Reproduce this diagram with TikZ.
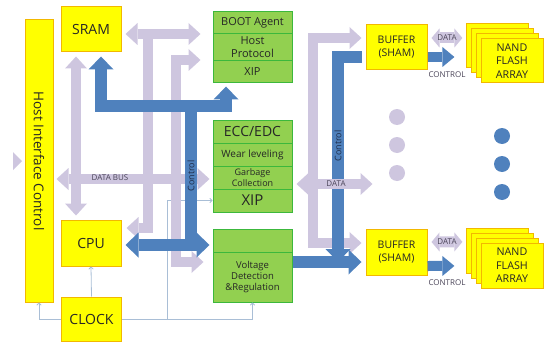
\documentclass[tikz,border=0pt]{standalone}
\usepackage{fontspec}
\setmainfont{Open Sans}
\usetikzlibrary{arrows.meta,calc}

\definecolor{yfill}{HTML}{FFFF00}
\definecolor{ybord}{HTML}{F2B800}
\definecolor{gfill}{HTML}{92D050}
\definecolor{gbord}{HTML}{3CB83C}
\definecolor{lavc}{HTML}{CEC6DF}
\definecolor{bluec}{HTML}{4F81BD}
\definecolor{thinc}{HTML}{A9BED6}
\definecolor{txtc}{HTML}{262626}
\definecolor{labc}{HTML}{4A4458}
\definecolor{ctlc}{HTML}{1E2D4A}

\tikzset{
  LavTip/.tip={Triangle[width=22pt,length=12pt,line width=0pt]},
  BlueTip/.tip={Triangle[width=25pt,length=13pt,line width=0pt]},
  SmallLav/.tip={Triangle[width=19pt,length=8pt,line width=0pt]},
  SmallBlue/.tip={Triangle[width=20pt,length=12pt,line width=0pt]},
  ybox/.style={draw=ybord, fill=yfill, line width=1pt, inner sep=0pt, align=center, text=txtc},
  gbox/.style={draw=gbord, fill=gfill, line width=1pt, inner sep=0pt, align=center, minimum width=79pt, text=txtc},
  lavbus/.style={draw=lavc, line width=10pt},
  bluebus/.style={draw=bluec, line width=12pt},
  thinline/.style={draw=thinc, line width=0.8pt, -{To[length=3pt,width=5pt]}},
  f8/.style={font=\fontsize{8}{9.5}\selectfont},
  f9/.style={font=\fontsize{9}{10.5}\selectfont},
  f10/.style={font=\fontsize{10}{11}\selectfont},
  f11/.style={font=\fontsize{11}{13}\selectfont},
  f14/.style={font=\fontsize{14}{16}\selectfont}
}

\begin{document}
\begin{tikzpicture}[x=1pt, y=-1pt]
    \useasboundingbox (0,0) rectangle (545,342);

    % Draw nodes
    \node[ybox, minimum width=28pt, minimum height=282pt] (hic) at (39,161) {};
    \node[rotate=-90, font=\fontsize{13.5}{16}\selectfont, text=txtc] (hictxt) at (hic.center) {Host Interface Control};
    \node[ybox, minimum width=60pt, minimum height=45pt, f14] (sram) at (91,29.5) {SRAM};
    \node[ybox, minimum width=60pt, minimum height=46pt, f14] (cpu) at (91,243) {CPU};
    \node[ybox, minimum width=60pt, minimum height=44pt, f14] (clock) at (91.5,319) {CLOCK};

    \node[gbox, minimum height=22pt, f11] (boot1) at (252.5,23) {BOOT Agent};
    \node[gbox, minimum height=27pt, f11] (boot2) at (252.5,47.5) {Host\\Protocol};
    \node[gbox, minimum height=22pt, f11] (boot3) at (252.5,72) {XIP};

    \node[gbox, minimum height=23pt, f14] (ecc1) at (252.5,131.5) {ECC/EDC};
    \node[gbox, minimum height=23pt, f10] (ecc2) at (252.5,154.5) {Wear leveling};
    \node[gbox, minimum height=23pt, f9] (ecc3) at (252.5,177.5) {Garbage\\Collection};
    \node[gbox, minimum height=23pt, font=\fontsize{15}{17}\selectfont] (ecc4) at (252.5,200.5) {XIP};

    \node[gbox, minimum height=23pt] (volt1) at (252.5,240.5) {};
    \node[gbox, minimum height=50pt, font=\fontsize{9.5}{11}\selectfont] (volt2) at (252.5,277) {Voltage\\Detection\\\&Regulation};

    \node[ybox, minimum width=61pt, minimum height=45pt, font=\fontsize{10.5}{13}\selectfont] (buf1) at (396.5,47.5) {BUFFER\\(SHAM)};
    \node[ybox, minimum width=61pt, minimum height=46pt, font=\fontsize{10.5}{13}\selectfont] (buf2) at (396.5,252) {BUFFER\\(SHAM)};

    \foreach \i in {3,2,1} {
        \node[ybox, minimum width=62pt, minimum height=44pt] (nand1b\i) at ($(512,61)+(-4.7*\i,-5*\i)$) {};
        \node[ybox, minimum width=62pt, minimum height=45pt] (nand2b\i) at ($(512,265.5)+(-4.7*\i,-4.7*\i)$) {};
    }
    \node[ybox, minimum width=62pt, minimum height=44pt, font=\fontsize{10.7}{13.5}\selectfont] (nand1) at (512,61) {NAND\\FLASH\\ARRAY};
    \node[ybox, minimum width=62pt, minimum height=45pt, font=\fontsize{10.7}{13.5}\selectfont] (nand2) at (512,265.5) {NAND\\FLASH\\ARRAY};

    % Dots
    \foreach \y [count=\k] in {117,145,173} {
        \fill[lavc] (397,\y) circle (8pt) coordinate (ldot\k);
        \fill[bluec] (502,\y+19) circle (8pt) coordinate (bdot\k);
    }
    \fill[lavc] (13,152) -- (22,161) -- (13,170) -- cycle;

    % Clock lines
    \coordinate (clktap) at ($(clock.east)+(45.5,0)$);
    \draw[thinline] (clock.north) -- (cpu.south);
    \draw[thinline] (clock.west) -| (hic.south);
    \draw[thinline] (clock.east) -| (volt2.south);
    \draw[thinline] (clktap) |- (ecc4.west);

    % Data paths
    \draw[lavbus, LavTip-LavTip] ($(sram.south)+(-15,4)$) -- ($(cpu.north)+(-15,-4)$);
    \draw[lavbus, LavTip-LavTip] ($(sram.east)+(4,4.5)$) -- ($(boot1.west)+(-12,11)$);
    \draw[lavbus, -LavTip] (148,34) -- (148,228) -- ($(cpu.east)+(5,-15)$);
    \draw[lavbus, LavTip-LavTip] ($(boot2.west)+(-12,12.5)$) -- (176,60) -- (176,262) -- ($(volt2.west)+(-9,-15)$);
    \draw[lavbus, LavTip-LavTip] ($(hic.east)+(3,18)$) -- ($(ecc3.west)+(-3,1.5)$);
    \draw[lavbus, LavTip-LavTip] ($(buf1.west)+(-4,-9.5)$) -- (313,38) -- (313,243) -- ($(buf2.west)+(-4,-9)$);

    % Control paths
    \draw[bluebus, BlueTip-BlueTip] ($(sram.south)+(10,4)$) -- (101,106) -- (226,106) -- ($(boot3.south)+(-26.5,3)$);
    \draw[bluebus] (191,106) -- (191,245);
    \draw[bluebus, BlueTip-BlueTip] ($(cpu.east)+(4,2)$) -- ($(volt1.west)+(-3,4.5)$);
    \draw[bluebus, -BlueTip] ($(buf1.west)+(-4,9.5)$) -- (338,57) -- (338,262);
    \draw[bluebus, -BlueTip] ($(volt2.east)+(0,-15)$) -- ($(buf2.west)+(-4,10)$);

    \coordinate (dataend) at ($(ecc3.east)+(80,6.5)$);
    \draw[lavbus, LavTip-LavTip] ($(ecc3.east)+(4,6.5)$) -- (dataend);

    % Buffer to flash
    \draw[lavbus, line width=11pt, SmallLav-SmallLav] ($(buf1.east)+(4,-9.5)$) -- ($(nand1b3.west)+(-4,-8)$);
    \draw[bluebus, line width=10pt, -SmallBlue, shorten >=12pt] ($(buf1.east)+(0,9.5)$) -- ($(nand1b3.west)+(0,11)$);
    \draw[lavbus, line width=11pt, SmallLav-SmallLav] ($(buf2.east)+(4,-10)$) -- ($(nand2b3.west)+(-4,-9.5)$);
    \draw[bluebus, line width=10pt, -SmallBlue, shorten >=12pt] ($(buf2.east)+(0,14)$) -- ($(nand2b3.west)+(0,14.5)$);

    % Labels
    \node[f8, text=labc] (dbus) at (110,178) {DATA BUS};
    \node[f9, rotate=90, text=ctlc] (ctl1) at (191,176) {Control};
    \node[f9, rotate=90, text=ctlc] (ctl2) at (338,146) {Control};
    \node[f8, text=labc] (data1) at (336,184) {DATA};
    \node[f8, text=labc] (data2) at (447,38) {DATA};
    \node[f8, text=labc] (data3) at (447,242) {DATA};
    \node[f8, text=labc] (ctrl1) at (447,75) {CONTROL};
    \node[f8, text=labc] (ctrl2) at (447,283) {CONTROL};
\end{tikzpicture}
\end{document}
